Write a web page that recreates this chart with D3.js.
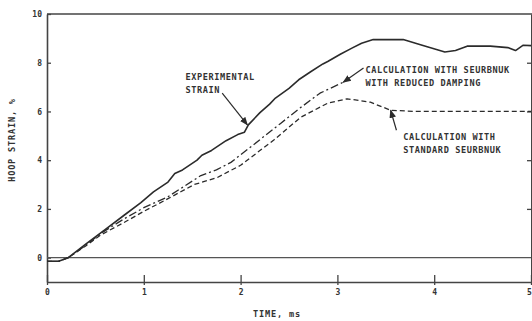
<!DOCTYPE html>
<html>
<head>
<meta charset="utf-8">
<script src="https://cdn.jsdelivr.net/npm/d3@7"></script>
<style>
	body { margin: 0; background: #fff; }
	svg { display: block; }
	text { font-family: 'DejaVu Sans Mono', 'Liberation Mono', monospace; fill: #333; }
	.tick text { font-size: 8px; }
	.note { font-size: 8.6px; }
	.axis-label { font-size: 8.6px; letter-spacing: 0.8px; }
</style>
</head>
<body>
<svg id="chart-svg" width="532" height="321"></svg>
<script>
// hoop strain vs time
const X_TICKS = [ 0, 1, 2, 3, 4, 5 ];
const Y_TICKS = [ 0, 2, 4, 6, 8, 10 ];

const expTime = [ 0, 0.12, 0.22, 0.4, 0.6, 0.8, 0.97, 1.1, 1.25, 1.32, 1.4, 1.55, 1.6, 1.7, 1.85, 1.97, 2.04, 2.08, 2.2, 2.3, 2.36, 2.5, 2.6, 2.72, 2.85, 2.9, 3.03, 3.15, 3.25, 3.37, 3.68, 3.85, 4.11, 4.22, 4.34, 4.58, 4.76, 4.84, 4.92, 5.0 ];
const expStrain = [ -0.15, -0.15, 0, 0.55, 1.15, 1.75, 2.26, 2.7, 3.1, 3.45, 3.6, 4.0, 4.2, 4.4, 4.8, 5.05, 5.15, 5.45, 5.95, 6.3, 6.55, 6.95, 7.3, 7.62, 7.95, 8.05, 8.35, 8.6, 8.8, 8.95, 8.95, 8.75, 8.44, 8.5, 8.68, 8.68, 8.62, 8.5, 8.72, 8.7 ];

const dampTime = [ 0, 0.12, 0.22, 0.4, 0.55, 0.8, 1.0, 1.25, 1.59, 1.75, 1.9, 2.1, 2.41, 2.6, 2.82, 3.06 ];
const dampStrain = [ -0.15, -0.15, 0, 0.5, 0.98, 1.6, 2.05, 2.5, 3.37, 3.6, 3.91, 4.53, 5.5, 6.1, 6.75, 7.2 ];

const stdTime = [ 0, 0.12, 0.22, 0.4, 0.55, 0.8, 1.0, 1.25, 1.52, 1.76, 2.0, 2.35, 2.62, 2.9, 3.1, 3.34, 3.55, 3.8, 4.3, 5.0 ];
const stdStrain = [ -0.15, -0.15, 0, 0.48, 0.92, 1.45, 1.9, 2.42, 3.0, 3.29, 3.79, 4.85, 5.76, 6.34, 6.52, 6.38, 6.05, 6.0, 6.0, 6.0 ];

// annotation text and anchors (time, strain)
const expLabel = [ 'EXPERIMENTAL', 'STRAIN' ];
const dampLabel = [ 'CALCULATION WITH SEURBNUK', 'WITH REDUCED DAMPING' ];
const stdLabel = [ 'CALCULATION WITH', 'STANDARD SEURBNUK' ];
const labelAnchors = [ [ 1.43, 7.28 ], [ 3.29, 7.57 ], [ 3.68, 4.81 ] ];
const leaderFrom = [ [ 1.81, 6.75 ], [ 3.27, 7.78 ], [ 3.61, 5.23 ] ];
const leaderTo = [ [ 2.07, 5.45 ], [ 3.06, 7.2 ], [ 3.55, 6.05 ] ];

const svg = d3.select('#chart-svg');
const ink = '#2b2b2b';

const xScale = d3.scaleLinear().domain([ 0, 5 ]).range([ 47, 531 ]);
const yScale = d3.scaleLinear().domain([ -1, 10 ]).range([ 282, 14 ]);

const defs = svg.append('defs');
defs
	.append('marker')
	.attr('id', 'arrow')
	.attr('viewBox', '0 0 10 10')
	.attr('refX', 9)
	.attr('refY', 5)
	.attr('markerWidth', 7)
	.attr('markerHeight', 7)
	.attr('orient', 'auto')
	.append('path')
	.attr('d', 'M0,1 L10,5 L0,9 Z')
	.attr('fill', ink);

// Axes
const yAxis = d3
	.axisLeft(yScale)
	.tickValues(Y_TICKS)
	.tickFormat(d3.format('d'))
	.tickSizeInner(-4)
	.tickSizeOuter(0)
	.tickPadding(5);
const yAxisG = svg.append('g').attr('transform', 'translate(' + xScale(0) + ',0)').call(yAxis);

const xAxis = d3
	.axisBottom(xScale)
	.tickValues(X_TICKS)
	.tickFormat(d3.format('d'))
	.tickSizeInner(-7)
	.tickSizeOuter(0)
	.tickPadding(7);
const xAxisG = svg.append('g').attr('transform', 'translate(0,' + yScale(-1) + ')').call(xAxis);
xAxisG.selectAll('.tick line').attr('y2', -7).attr('y1', 3);
xAxisG.selectAll('.tick text').filter((d) => d == 5).attr('dx', -2);

const rAxis = d3.axisRight(yScale).tickValues(Y_TICKS.slice(1, 5)).tickSizeInner(-4).tickSizeOuter(0).tickFormat('');
const rAxisG = svg.append('g').attr('transform', 'translate(' + xScale(5) + ',0)').call(rAxis);

[ yAxisG, xAxisG, rAxisG ].forEach((g) => {
	g.select('.domain').attr('stroke', '#444').attr('stroke-width', 1.6);
	g.selectAll('.tick line').attr('stroke', '#444').attr('stroke-width', 1.3);
	g.selectAll('.tick text').attr('fill', '#333').style('font-weight', 'bold');
});
rAxisG.select('.domain').attr('stroke-width', 1);

// top frame and zero line
svg
	.append('line')
	.attr('x1', xScale(0))
	.attr('x2', xScale(5) + 1)
	.attr('y1', yScale(10))
	.attr('y2', yScale(10))
	.attr('stroke', '#444')
	.attr('stroke-width', 1.6);
svg
	.append('line')
	.attr('x1', xScale(0))
	.attr('x2', xScale(5))
	.attr('y1', yScale(0))
	.attr('y2', yScale(0))
	.attr('stroke', '#555')
	.attr('stroke-width', 1.3);

// Curves
const line = d3.line().x((d) => xScale(d[0])).y((d) => yScale(d[1]));
const series = [
	{ t: stdTime, v: stdStrain, dash: '5,3', w: 1.3 },
	{ t: dampTime, v: dampStrain, dash: '8,3,2,3', w: 1.3 },
	{ t: expTime, v: expStrain, dash: null, w: 1.6 }
];
series.forEach((s) => {
	svg
		.append('path')
		.datum(d3.zip(s.t, s.v))
		.attr('d', line)
		.attr('fill', 'none')
		.attr('stroke', ink)
		.attr('stroke-width', s.w)
		.attr('stroke-dasharray', s.dash)
		.attr('stroke-linejoin', 'round');
});

// Leaders
svg
	.selectAll('.leader')
	.data(d3.zip(leaderFrom, leaderTo))
	.enter()
	.append('line')
	.attr('class', 'leader')
	.attr('x1', (d) => xScale(d[0][0]))
	.attr('y1', (d) => yScale(d[0][1]))
	.attr('x2', (d) => xScale(d[1][0]))
	.attr('y2', (d) => yScale(d[1][1]))
	.attr('stroke', ink)
	.attr('stroke-width', 1.2)
	.attr('marker-end', 'url(#arrow)');

// Notes
[ expLabel, dampLabel, stdLabel ].forEach((lines, i) => {
	const t = svg
		.append('text')
		.attr('class', 'note')
		.attr('x', xScale(labelAnchors[i][0]))
		.attr('y', yScale(labelAnchors[i][1]))
		.style('font-weight', 'bold')
		.style('letter-spacing', '0.6px');
	lines.forEach((s, j) => {
		t.append('tspan').attr('x', xScale(labelAnchors[i][0])).attr('dy', j == 0 ? 0 : 12.5).text(s);
	});
});

// Axis titles
svg
	.append('text')
	.attr('class', 'axis-label')
	.attr('x', 277)
	.attr('y', 317)
	.attr('text-anchor', 'middle')
	.style('font-weight', 'bold')
	.text('TIME, ms');
svg
	.append('text')
	.attr('class', 'axis-label')
	.attr('transform', 'translate(15,140) rotate(-90)')
	.attr('text-anchor', 'middle')
	.style('font-weight', 'bold')
	.text('HOOP STRAIN, %');
</script>
</body>
</html>
